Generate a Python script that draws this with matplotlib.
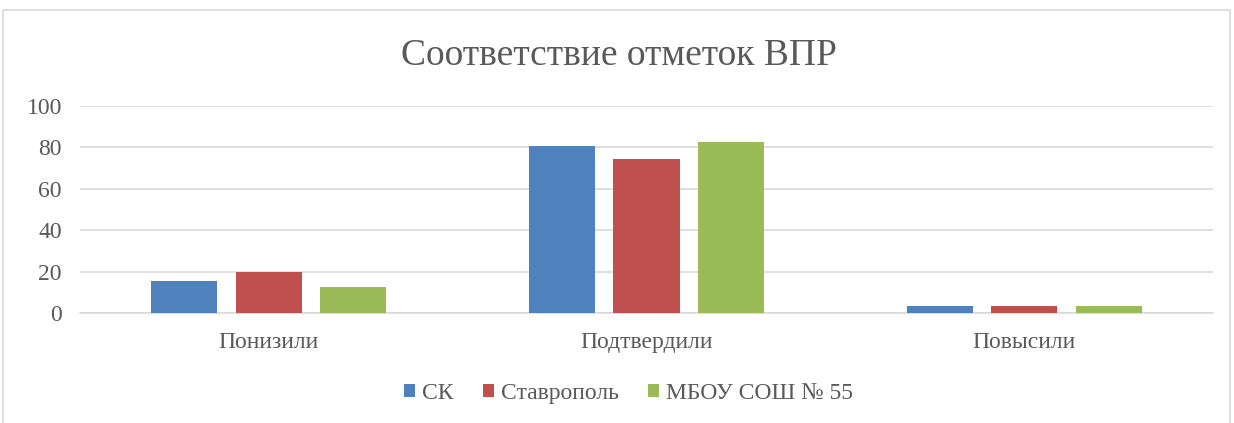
import numpy as np
import matplotlib.pyplot as plt
from matplotlib.patches import Rectangle

# Данные
categories = ['Понизили', 'Подтвердили', 'Повысили']
series_names = ['СК', 'Ставрополь', 'МБОУ СОШ № 55']
sk = [15.6, 80.7, 3.6]
stavropol = [19.6, 74.4, 3.5]
school55 = [12.7, 82.4, 3.6]
colors = ['#4f81bd', '#c0504d', '#9bbb59']

plt.rcParams['font.family'] = ['Liberation Serif', 'DejaVu Serif']
text_color = '#595959'

fig = plt.figure(figsize=(12.34, 4.23), dpi=100)
W, H = 1234, 423
ax = fig.add_axes([80 / W, 1 - 313 / H, (1213 - 80) / W, (313 - 106) / H])

# рамка диаграммы
fig.patches.append(Rectangle((3 / W, -0.05), (1230 - 3) / W, 1 - 10 / H + 0.05,
                             transform=fig.transFigure, fill=False,
                             edgecolor='#d9d9d9', linewidth=1.2))

x = np.arange(len(categories))
step = 0.2235
width = 0.175
for i, (vals, name) in enumerate(zip([sk, stavropol, school55], series_names)):
    ax.bar(x + (i - 1) * step, vals, width, color=colors[i], label=name, zorder=3)

ax.set_xlim(-0.5, 2.5)
ax.set_ylim(0, 100)
ax.set_yticks(range(0, 101, 20))
ax.yaxis.grid(True, color='#d9d9d9', linewidth=1.2, zorder=0)
for s in ['top', 'right', 'left']:
    ax.spines[s].set_visible(False)
ax.spines['bottom'].set_color('#d9d9d9')
ax.spines['bottom'].set_linewidth(1.2)
ax.set_xticks(x)
ax.set_xticklabels(categories)
ax.tick_params(axis='both', length=0, labelsize=17, colors=text_color)
ax.tick_params(axis='x', pad=14)
ax.tick_params(axis='y', pad=13)

fig.text(0.5 + 2 / W, 1 - 65 / H, 'Соответствие отметок ВПР', ha='center', va='baseline',
         fontsize=27, color=text_color)

leg = fig.legend(loc='center', bbox_to_anchor=(628.5 / W, 1 - 393 / H), ncol=3,
                 frameon=False, fontsize=17, handlelength=0.47, handleheight=0.47,
                 handletextpad=0.3, columnspacing=1.25)
for t in leg.get_texts():
    t.set_color(text_color)

fig.savefig('out.png', dpi=100)
